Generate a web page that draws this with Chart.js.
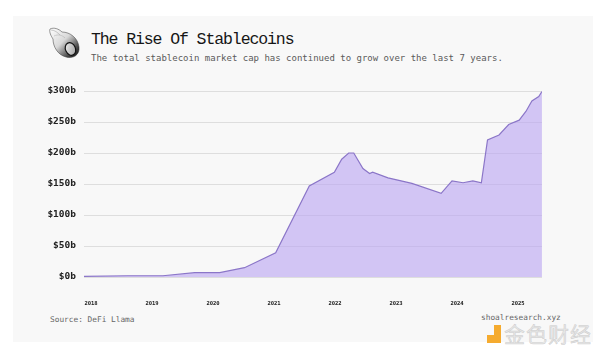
<!DOCTYPE html>
<html>
<head>
<meta charset="utf-8">
<script src="https://cdn.jsdelivr.net/npm/chart.js@4.4.1/dist/chart.umd.min.js"></script>
<style>
  html, body { margin: 0; padding: 0; background: #fff; }
  #wrap { position: relative; width: 600px; height: 350px; overflow: hidden; }
  #card { position: absolute; left: 13px; top: 16px; width: 580px; height: 326px; background: #f8f8f8; }
  #chartBox { position: absolute; left: 0; top: 0; width: 600px; height: 350px; }
  .txt { position: absolute; font-family: "DejaVu Sans Mono", monospace; white-space: nowrap; }
  #title { left: 91px; top: 29.5px; font-family: "Liberation Mono", monospace; font-size: 16.5px; letter-spacing: -1.1px; color: #161616; }
  #sub { left: 91px; top: 52.5px; font-size: 9px; color: #5a5a5a; }
  #source { left: 50px; top: 314.5px; font-size: 7.8px; color: #666; }
  #site { left: 481px; top: 313px; font-size: 7.8px; color: #666; }
  #mark { position: absolute; left: 504px; top: 318px; font-family: "Noto Sans CJK SC", sans-serif; font-size: 21px;
          color: rgba(225,225,225,0.75); -webkit-text-stroke: 0.5px rgba(180,180,180,0.6); letter-spacing: 1px; }
  #markIcon { position: absolute; left: 487px; top: 325px; width: 14px; height: 18px; opacity: 0.9; }
  #shell { position: absolute; left: 47px; top: 26px; }
</style>
</head>
<body>
<div id="wrap">
  <div id="card"></div>
  <svg id="shell" width="34" height="33" viewBox="0 0 34 33">
    <defs>
      <linearGradient id="sg" x1="0" y1="0" x2="1" y2="1">
        <stop offset="0" stop-color="#ffffff"/>
        <stop offset="0.45" stop-color="#d8d8d8"/>
        <stop offset="0.75" stop-color="#555555"/>
        <stop offset="1" stop-color="#0a0a0a"/>
      </linearGradient>
      <linearGradient id="ap" x1="0" y1="0" x2="1" y2="1">
        <stop offset="0" stop-color="#f4f4f4"/>
        <stop offset="1" stop-color="#9a9a9a"/>
      </linearGradient>
    </defs>
    <path d="M3 3 C7 1 12 3 15 6 C23 6 31 12 32 21 C33 29 26 33 19 31 C11 29 6 21 6 13 C4 10 2 6 3 3 Z" fill="url(#sg)" stroke="#333" stroke-width="0.5"/>
    <path d="M4 4 C8 4 11 7 13 9" fill="none" stroke="#999" stroke-width="0.5"/>
    <path d="M7 10 C11 8 15 9 18 12" fill="none" stroke="#aaa" stroke-width="0.5"/>
    <ellipse cx="23.5" cy="23" rx="5" ry="6.5" transform="rotate(-25 23.5 23)" fill="url(#ap)" stroke="#111" stroke-width="1.2"/>
  </svg>
  <div id="title" class="txt">The Rise Of Stablecoins</div>
  <div id="sub" class="txt">The total stablecoin market cap has continued to grow over the last 7 years.</div>
  <div id="source" class="txt">Source: DeFi Llama</div>
  <div id="site" class="txt">shoalresearch.xyz</div>
  <svg id="markIcon" viewBox="0 0 14 18">
    <rect x="7" y="0" width="7" height="18" fill="#f5a31a"/>
    <rect x="0" y="10" width="14" height="8" fill="#f5a31a"/>
  </svg>
  <div id="mark">金色财经</div>
  <div id="chartBox"><canvas id="c"></canvas></div>
</div>
<script>
// stablecoin market cap, billions of USD
const dates = [
  '2017-11-19', '2018-08-07', '2019-03-07', '2019-09-13', '2020-02-10', '2020-07-08',
  '2021-01-11', '2021-07-31', '2021-12-28', '2022-02-10', '2022-03-24', '2022-04-23',
  '2022-06-17', '2022-07-27', '2022-08-14', '2022-11-14', '2023-04-06', '2023-09-28',
  '2023-12-02', '2024-02-06', '2024-04-05', '2024-05-26', '2024-07-02', '2024-09-09',
  '2024-11-06', '2025-01-08', '2025-02-17', '2025-03-25', '2025-05-05', '2025-05-24'
];
const capB = [
  1, 2, 2, 7, 7, 15,
  39, 147, 169, 190, 200, 200,
  175, 167, 169, 160, 151, 135,
  155, 152, 155, 152, 221, 229,
  246, 253, 267, 284, 291, 299
];
const yearTicks = [2018, 2019, 2020, 2021, 2022, 2023, 2024, 2025];
const yTicks = [0, 50, 100, 150, 200, 250, 300];

function toYear(s) {
  const d = new Date(s + 'T00:00:00Z');
  const y = d.getUTCFullYear();
  const start = Date.UTC(y, 0, 1);
  const end = Date.UTC(y + 1, 0, 1);
  return y + (d.getTime() - start) / (end - start);
}

const points = dates.map((d, i) => ({ x: toYear(d), y: capB[i] }));

new Chart(document.getElementById('c'), {
  type: 'line',
  data: {
    datasets: [{
      data: points,
      borderColor: '#8b76c8',
      borderWidth: 1.2,
      backgroundColor: 'rgba(188,166,242,0.62)',
      fill: 'origin',
      pointRadius: 0,
      tension: 0
    }]
  },
  options: {
    responsive: true,
    maintainAspectRatio: false,
    animation: false,
    layout: { padding: { left: 30, right: 58, top: 91, bottom: 43 } },
    plugins: { legend: { display: false }, tooltip: { enabled: false } },
    scales: {
      x: {
        type: 'linear',
        min: 2017.885,
        max: 2025.393,
        border: { display: false },
        grid: { display: false },
        afterFit: s => { s.height = 30; },
        afterBuildTicks: s => { s.ticks = yearTicks.map(v => ({ value: v })); },
        ticks: {
          padding: 15,
          maxRotation: 0,
          autoSkip: false,
          color: '#222',
          font: { family: 'DejaVu Sans Mono', size: 5.5, weight: 'bold' },
          callback: v => String(v)
        }
      },
      y: {
        min: 0,
        max: 300,
        border: { display: false },
        grid: { color: '#dedede', lineWidth: 1, drawTicks: false },
        afterFit: s => { s.width = 54; },
        afterBuildTicks: s => { s.ticks = yTicks.map(v => ({ value: v })); },
        ticks: {
          padding: 8,
          color: '#222',
          font: { family: 'DejaVu Sans Mono', size: 9.5, weight: 'bold' },
          callback: v => '$' + v + 'b'
        }
      }
    }
  }
});
</script>
</body>
</html>
